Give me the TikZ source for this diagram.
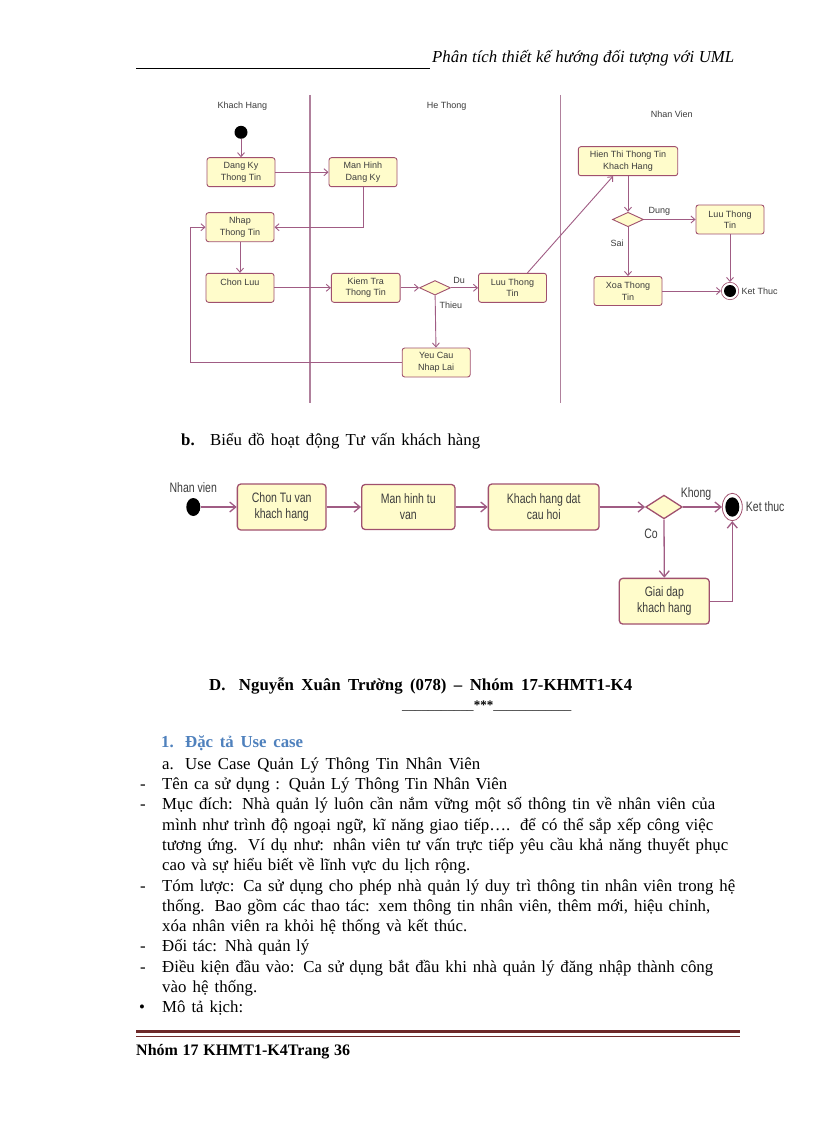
\documentclass[tikz,border=0pt]{standalone}
\usepackage{fontspec}
\setmainfont{Liberation Serif}
\newfontfamily\arialf{Liberation Sans}
\usetikzlibrary{arrows.meta,shapes.geometric}
\definecolor{boxfill}{HTML}{FFFCCB}
\definecolor{boxline}{HTML}{A0506E}
\definecolor{edgec}{HTML}{A05C84}
\definecolor{lanec}{HTML}{B0809C}
\definecolor{dtext}{HTML}{3C3C3C}
\definecolor{headblue}{HTML}{4F81BD}
\definecolor{footred}{HTML}{6E2A2A}
\newcommand{\vs}[1]{\scalebox{1}[1.3]{#1}}
\newcommand{\bodyfont}{\fontsize{16.8}{20}\selectfont}
\newcommand{\jline}[2]{\makebox[#1pt][s]{#2}}
\begin{document}
\begin{tikzpicture}[x=1pt,y=-1pt,
  act1/.style={draw=boxline, fill=boxfill, rounded corners=2.5pt, line width=0.9pt, minimum width=68pt, minimum height=29pt, inner sep=1pt, align=center, font=\arialf\fontsize{9}{11.5}\selectfont, text=dtext},
  dia1/.style={diamond, draw=boxline, fill=boxfill, line width=0.9pt, minimum width=31pt, minimum height=14.5pt, inner sep=0pt},
  lbl1/.style={font=\arialf\fontsize{9}{10}\selectfont, text=dtext, inner sep=0pt},
  e1/.style={draw=edgec, line width=0.9pt, -{Straight Barb[length=4pt,width=7pt]}},
  lane/.style={draw=lanec, line width=1.3pt},
  act2/.style={draw=boxline, fill=boxfill, rounded corners=3.5pt, line width=1.3pt, inner sep=1pt, align=center, font=\arialf\fontsize{10.5}{16}\selectfont, text=dtext},
  e2/.style={draw=edgec, line width=1.3pt, -{Straight Barb[length=6pt,width=10pt]}},
  lbl2/.style={font=\arialf\fontsize{10.5}{14}\selectfont, text=dtext, inner sep=0pt},
  body/.style={anchor=base west, inner sep=0pt, font=\bodyfont},
]
\fill[white] (0,0) rectangle (816,1123);
\useasboundingbox (0,0) rectangle (816,1123);

% ---------- header ----------
\node[body] (hdr) at (432,63) {\itshape\jline{302}{Phân tích thiết kế hướng đối tượng với UML}};
\draw[line width=0.6pt] (136,68) -- (430,68);

% ---------- diagram 1: swimlanes ----------
\draw[lane] (310,95) -- (310,403);
\draw[lane] (560.7,95) -- (560.7,403);
\node[lbl1] (lkh) at (242.3,105.7) {Khach Hang};
\node[lbl1] (lht) at (446.7,106.5) {He Thong};
\node[lbl1] (lnv) at (671.7,114) {Nhan Vien};

\node[circle, fill=black, minimum size=13pt, inner sep=0pt] (s1) at (241,132.3) {};
\node[act1] (dk) at (241,172.2) {Dang Ky\\Thong Tin};
\node[act1] (mh) at (363,172.2) {Man Hinh\\Dang Ky};
\node[act1] (nt) at (240,227.2) {Nhap\\Thong Tin};
\node[act1] (cl) at (240,287.8) {Chon Luu\\\mbox{}};
\node[act1, minimum width=68.7pt] (kt) at (365.7,287.8) {Kiem Tra\\Thong Tin};
\node[dia1] (d1) at (435,287.8) {};
\node[act1] (lt1) at (512.5,287.8) {Luu Thong\\Tin};
\node[act1] (yc) at (436.2,362.5) {Yeu Cau\\Nhap Lai};
\coordinate (lp) at (190.7,362.5);
\node[act1, minimum width=99.4pt] (ht) at (628,161.2) {Hien Thi Thong Tin\\Khach Hang};
\node[dia1] (d2) at (628,219.5) {};
\node[act1] (lt2) at (730,219.5) {Luu Thong\\Tin};
\node[act1] (xt) at (628,291) {Xoa Thong\\Tin};
\node[circle, draw=boxline, line width=0.6pt, minimum size=17.4pt, inner sep=0pt] (f1) at (730,291) {};
\node[circle, fill=black, minimum size=12pt, inner sep=0pt] (f1in) at (f1) {};
\node[lbl1, anchor=west] (ktl1) at (741.5,291) {Ket Thuc};

\draw[e1] (s1) -- (dk);
\draw[e1] (dk) -- (mh);
\draw[e1] (mh.south) |- (nt.east);
\draw[e1] (nt) -- (cl);
\draw[e1] (cl) -- (kt);
\draw[e1] (kt) -- (d1);
\draw[e1] (d1) -- node[lbl1, pos=0.3, above=4pt] (ldu) {Du} (lt1);
\draw[e1] (d1) -- node[lbl1, pos=0.18, right=4pt] (lthieu) {Thieu} (yc);
\draw[e1] (yc.west) -- (lp) |- (nt.west);
\draw[e1] (lt1.45) -- (ht.-135);
\draw[e1] (ht) -- (d2);
\draw[e1] (d2) -- node[lbl1, pos=0.3, above=4pt] (ldung) {Dung} (lt2);
\draw[e1] (d2) -- node[lbl1, pos=0.33, left=4pt] (lsai) {Sai} (xt);
\draw[e1] (lt2) -- (f1);
\draw[e1] (xt) -- (f1);

% ---------- section b ----------
\node[body] (bnum) at (181,445) {\bfseries b.};
\node[body] (btit) at (210,445) {\jline{270}{Biểu đồ hoạt động Tư vấn khách hàng}};

% ---------- diagram 2 ----------
\node[ellipse, fill=black, minimum width=14pt, minimum height=18pt, inner sep=0pt] (s2) at (193.3,507) {};
\node[lbl2] (nv) at (193.3,487.3) {\vs{Nhan vien}};
\node[act2, minimum width=88.7pt, minimum height=46pt] (c2) at (281.7,507) {\vs{Chon Tu van}\\\vs{khach hang}};
\node[act2, minimum width=93.3pt, minimum height=45pt] (m2) at (408.3,507) {\vs{Man hinh tu}\\\vs{van}};
\node[act2, minimum width=110.7pt, minimum height=46pt] (k2) at (543.7,507) {\vs{Khach hang dat}\\\vs{cau hoi}};
\node[diamond, draw=boxline, fill=boxfill, line width=1.3pt, minimum width=36.6pt, minimum height=23.7pt, inner sep=0pt] (dd) at (664,507) {};
\node[ellipse, draw=boxline, line width=0.8pt, minimum width=20pt, minimum height=27.4pt, inner sep=0pt] (f2) at (732.3,507) {};
\node[ellipse, fill=black, minimum width=14pt, minimum height=19.4pt, inner sep=0pt] (f2in) at (f2) {};
\node[act2, minimum width=90pt, minimum height=45.7pt] (g2) at (664.3,601.2) {\vs{Giai dap}\\\vs{khach hang}};
\node[lbl2] (lkhong) at (696,494) {\vs{Khong}};
\node[lbl2, anchor=west] (ktl2) at (745.7,507) {\vs{Ket thuc}};
\node[lbl2] (lco) at (651,533.3) {\vs{Co}};

\draw[e2] (s2) -- (c2);
\draw[e2] (c2) -- (m2);
\draw[e2] (m2) -- (k2);
\draw[e2] (k2) -- (dd);
\draw[e2] (dd) -- (f2);
\draw[e2] (dd.south) -- (g2.north);
\draw[e2] (g2.east) -| (f2.south);

% ---------- section D ----------
\node[body] (dhead) at (209,690) {\bfseries\jline{423}{D.\hspace{6pt} Nguyễn Xuân Trường (078) – Nhóm 17-KHMT1-K4}};
\node[body, font=\fontsize{13}{15}\selectfont] (stars) at (402,709) {\_\_\_\_\_\_\_\_\_\_\_\textbf{***}\_\_\_\_\_\_\_\_\_\_\_\_};
\node[body, text=headblue] (s1num) at (161,747) {\bfseries 1.};
\node[body, text=headblue] (s1tit) at (185,747) {\bfseries\jline{118}{Đặc tả Use case}};
\node[body] (anum) at (162,769) {a.};
\node[body] (atit) at (185,769) {\jline{295}{Use Case Quản Lý Thông Tin Nhân Viên}};

\node[body] (dash1) at (140,789) {-};
\node[body] (l1) at (162,789) {\jline{345}{Tên ca sử dụng : Quản Lý Thông Tin Nhân Viên}};
\node[body] (dash2) at (140,809) {-};
\node[body] (l2) at (162,809) {\jline{553}{Mục đích:  Nhà quản lý luôn cần nắm vững một số thông tin về nhân viên của}};
\node[body] (l3) at (162,830) {\jline{551}{mình như trình độ ngoại ngữ, kĩ năng giao tiếp…. để có thể sắp xếp công việc}};
\node[body] (l4) at (162,850) {\jline{566}{tương ứng. Ví dụ như: nhân viên tư vấn trực tiếp yêu cầu khả năng thuyết phục}};
\node[body] (l5) at (162,870) {\jline{308}{cao và sự hiểu biết về lĩnh vực du lịch rộng.}};
\node[body] (dash3) at (140,891) {-};
\node[body] (l6) at (162,891) {\jline{573}{Tóm lược: Ca sử dụng cho phép nhà quản lý duy trì thông tin nhân viên trong hệ}};
\node[body] (l7) at (162,911) {\jline{548}{thống. Bao gồm các thao tác: xem thông tin nhân viên, thêm mới, hiệu chỉnh,}};
\node[body] (l8) at (162,931) {\jline{305}{xóa nhân viên ra khỏi hệ thống và kết thúc.}};
\node[body] (dash4) at (140,951) {-};
\node[body] (l9) at (162,951) {\jline{147}{Đối tác: Nhà quản lý}};
\node[body] (dash5) at (140,972) {-};
\node[body] (l10) at (162,972) {\jline{551}{Điều kiện đầu vào: Ca sử dụng bắt đầu khi nhà quản lý đăng nhập thành công}};
\node[body] (l11) at (162,992) {\jline{95}{vào hệ thống.}};
\node[body] (bul) at (139,1012) {\textbullet};
\node[body] (l12) at (162,1012) {\jline{81}{Mô tả kịch:}};

% ---------- footer ----------
\draw[footred, line width=3pt] (136,1031) -- (740,1031);
\draw[footred, line width=1pt] (136,1036) -- (740,1036);
\node[body, font=\fontsize{16}{19}\selectfont] (foot) at (136,1055) {\bfseries\jline{214}{Nhóm 17 KHMT1-K4Trang  36}};
\end{tikzpicture}
\end{document}
